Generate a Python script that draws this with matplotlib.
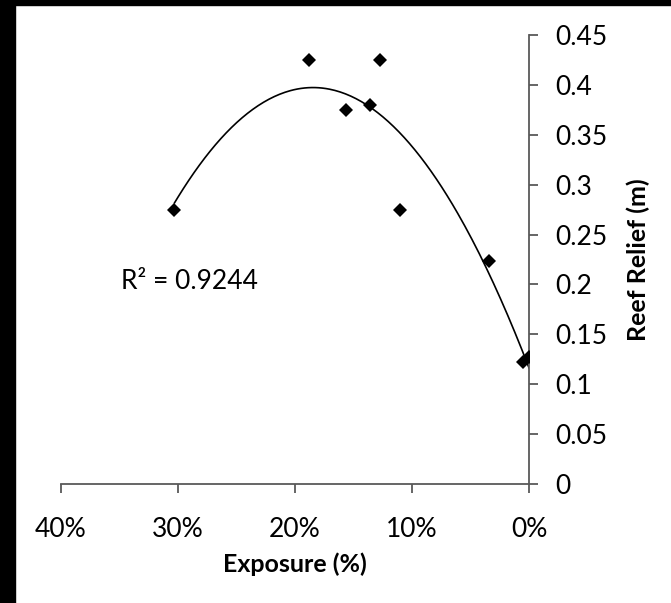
import matplotlib
matplotlib.use('Agg')
import matplotlib.pyplot as plt
from matplotlib.patches import Rectangle
from matplotlib.ticker import FuncFormatter
import numpy as np

# exposure (%) and reef relief (m)
exposure = [30.3, 18.8, 12.7, 15.6, 13.6, 11.0, 3.4, 0.5, 0.0]
relief = [0.275, 0.425, 0.425, 0.375, 0.380, 0.275, 0.223, 0.122, 0.127]
x_ticks = [40, 30, 20, 10, 0]
y_ticks = [0, 0.05, 0.1, 0.15, 0.2, 0.25, 0.3, 0.35, 0.4, 0.45]
r2_text = 'R\u00b2 = 0.9244'

plt.rcParams['font.family'] = ['Lato', 'DejaVu Sans']
axis_col = '#595959'

fig = plt.figure(figsize=(6.71, 6.03), dpi=100)
fig.patch.set_facecolor('white')
# black margin on the left and top of the original screenshot
fig.patches.append(Rectangle((0, 0), 15 / 671, 1, transform=fig.transFigure,
                             color='black', zorder=0))
fig.patches.append(Rectangle((0, 1 - 5 / 603), 1, 5 / 603, transform=fig.transFigure,
                             color='black', zorder=0))

ax = fig.add_axes([61 / 671, 119 / 603, 468 / 671, 449 / 603])

# second order polynomial trendline over the data range
coef = np.polyfit(exposure, relief, 2)
xs = np.linspace(min(exposure), max(exposure), 200)
ax.plot(xs, np.polyval(coef, xs), color='black', lw=1.2, zorder=2)
ax.plot(exposure, relief, linestyle='none', marker='D', markersize=7,
        color='black', markeredgewidth=0, zorder=3)

ax.set_xlim(40, 0)
ax.set_ylim(0, 0.45)
ax.set_xticks(x_ticks)
ax.xaxis.set_major_formatter(FuncFormatter(lambda v, p: f'{v:.0f}%'))
ax.set_yticks(y_ticks)
ax.yaxis.set_major_formatter(FuncFormatter(lambda v, p: f'{v:g}'))

for s in ['top', 'left']:
    ax.spines[s].set_visible(False)
for s in ['bottom', 'right']:
    ax.spines[s].set_color(axis_col)
    ax.spines[s].set_linewidth(1.3)

ax.yaxis.tick_right()
ax.yaxis.set_label_position('right')
ax.tick_params(axis='x', direction='out', length=6.5, width=1.3, color=axis_col,
               labelsize=19, pad=17)
ax.tick_params(axis='y', direction='out', length=6.5, width=1.3, color=axis_col,
               labelsize=19, pad=12.5)

ax.set_xlabel('Exposure (%)', fontsize=18, fontweight='bold', labelpad=8)
ax.set_ylabel('Reef Relief (m)', fontsize=18, fontweight='bold', labelpad=13.5)

ax.text(23.2, 0.1954, r2_text, fontsize=19, ha='right', va='baseline')

fig.savefig('out.png', dpi=100, facecolor=fig.get_facecolor())
